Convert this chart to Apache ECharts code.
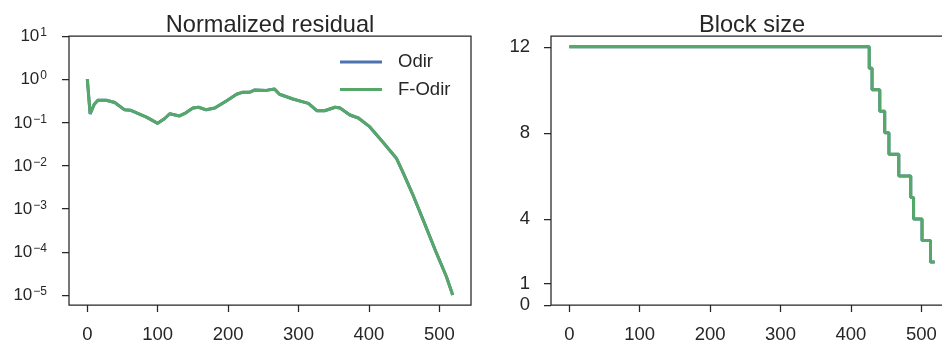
<!DOCTYPE html>
<html>
<head>
<meta charset="utf-8">
<script src="https://cdn.jsdelivr.net/npm/echarts@6/dist/echarts.min.js"></script>
<style>
html,body{margin:0;padding:0;background:#fff;}
#c{width:942px;height:345px;}
</style>
</head>
<body>
<div id="c"></div>
<script>
// ---- data ----
const residualIter = [0, 4, 10, 15, 27, 39, 53, 61, 84, 100, 110, 117, 131, 140, 150, 158, 169, 181, 198, 212, 221, 231, 238, 254, 266, 273, 292, 314, 326, 337, 352, 359, 373, 385, 401, 420, 439, 449, 463, 477, 496, 510, 519];
const residualOdir = [1.0, 0.158, 0.263, 0.324, 0.324, 0.288, 0.195, 0.191, 0.132, 0.095, 0.123, 0.158, 0.141, 0.166, 0.214, 0.224, 0.195, 0.214, 0.316, 0.447, 0.501, 0.501, 0.562, 0.550, 0.589, 0.447, 0.347, 0.275, 0.186, 0.186, 0.224, 0.214, 0.148, 0.126, 0.0794, 0.0347, 0.0148, 0.0066, 0.0020, 0.00055, 0.0000933, 0.0000269, 0.00001];
const residualFOdir = [1.0, 0.158, 0.263, 0.324, 0.324, 0.288, 0.195, 0.191, 0.132, 0.095, 0.123, 0.158, 0.141, 0.166, 0.214, 0.224, 0.195, 0.214, 0.316, 0.447, 0.501, 0.501, 0.562, 0.550, 0.589, 0.447, 0.347, 0.275, 0.186, 0.186, 0.224, 0.214, 0.148, 0.126, 0.0794, 0.0347, 0.0148, 0.0066, 0.0020, 0.00055, 0.0000933, 0.0000269, 0.00001];
const blockIter = [0, 426, 430, 441, 448, 454, 468, 485, 489, 501, 513, 519];
const blockOdir = [12, 11, 10, 9, 8, 7, 6, 5, 4, 3, 2, 2];
const blockFOdir = [12, 11, 10, 9, 8, 7, 6, 5, 4, 3, 2, 2];
const xTicks = [0, 100, 200, 300, 400, 500];
const logTickExponents = [-5, -4, -3, -2, -1, 0, 1];
const blockTicks = [0, 1, 4, 8, 12];
const seriesNames = ['Odir', 'F-Odir'];
const titles = ['Normalized residual', 'Block size'];

// ---- style ----
const FONT = '"Liberation Sans", Arial, sans-serif';
const INK = '#262626';
const BLUE = '#4C72B0';
const GREEN = '#55A868';

const pairs = (xs, ys, f) => xs.map((x, i) => [x, f ? f(ys[i]) : ys[i]]);
const sup = v => (v < 0 ? '\u2212' + (-v) : String(v));

const chart = echarts.init(document.getElementById('c'), null, {renderer: 'canvas'});

const tickStyle = {color: INK, width: 1.25};
const xAxisBase = {
  type: 'value', min: -26, max: 545,
  axisLine: {show: false, onZero: false},
  splitLine: {show: false},
  axisTick: {show: true, customValues: xTicks, length: 7, inside: false, lineStyle: tickStyle},
  axisLabel: {customValues: xTicks, color: INK, fontSize: 18.5, fontFamily: FONT, margin: 20.5}
};

chart.setOption({
  animation: false,
  title: [
    {text: titles[0], left: 265, top: 8, textAlign: 'center', textStyle: {fontSize: 23.6, fontWeight: 'normal', color: INK, fontFamily: FONT}},
    {text: titles[1], left: 747, top: 8, textAlign: 'center', textStyle: {fontSize: 23.6, fontWeight: 'normal', color: INK, fontFamily: FONT}}
  ],
  legend: {
    data: seriesNames,
    orient: 'vertical',
    left: 335, top: 47,
    itemWidth: 42, itemHeight: 3,
    itemGap: 7.6,
    icon: 'rect',
    textStyle: {fontSize: 18.5, color: INK, fontFamily: FONT, lineHeight: 20, padding: [0, 0, 0, 11]}
  },
  grid: [
    {left: 69, top: 36, width: 402, height: 269, show: true, borderColor: INK, borderWidth: 1.25, backgroundColor: 'transparent', containLabel: false, outerBoundsMode: 'none'},
    {left: 551, top: 36, width: 402, height: 269, show: true, borderColor: INK, borderWidth: 1.25, backgroundColor: 'transparent', containLabel: false, outerBoundsMode: 'none'}
  ],
  xAxis: [
    Object.assign({gridIndex: 0}, xAxisBase),
    Object.assign({gridIndex: 1}, xAxisBase)
  ],
  yAxis: [
    {
      gridIndex: 0, type: 'value', min: -5.23, max: 1,
      axisLine: {show: false, onZero: false}, splitLine: {show: false},
      axisTick: {show: true, customValues: logTickExponents, length: 7, lineStyle: tickStyle},
      axisLabel: {
        customValues: logTickExponents, margin: 22, color: INK, fontFamily: FONT,
        formatter: v => '{b|10}{s|' + sup(Math.round(v)) + '}',
        rich: {
          b: {fontSize: 17, lineHeight: 18, padding: [7, 0, 0, 0], color: INK, fontFamily: FONT, verticalAlign: 'bottom'},
          s: {fontSize: 12, lineHeight: 12, color: INK, fontFamily: FONT, verticalAlign: 'top', padding: [0, 0, 0, 1]}
        }
      }
    },
    {
      gridIndex: 1, type: 'value', min: 0, max: 12.5,
      axisLine: {show: false, onZero: false}, splitLine: {show: false},
      axisTick: {show: true, customValues: blockTicks, length: 7, lineStyle: tickStyle},
      axisLabel: {customValues: blockTicks, margin: 21, color: INK, fontSize: 18.5, fontFamily: FONT}
    }
  ],
  series: [
    {name: seriesNames[0], type: 'line', xAxisIndex: 0, yAxisIndex: 0, data: pairs(residualIter, residualOdir, Math.log10), showSymbol: false, symbol: 'none', lineStyle: {color: BLUE, width: 3}, itemStyle: {color: BLUE}},
    {name: seriesNames[1], type: 'line', xAxisIndex: 0, yAxisIndex: 0, data: pairs(residualIter, residualFOdir, Math.log10), showSymbol: false, symbol: 'none', lineStyle: {color: GREEN, width: 3}, itemStyle: {color: GREEN}},
    {name: seriesNames[0], type: 'line', xAxisIndex: 1, yAxisIndex: 1, step: 'end', data: pairs(blockIter, blockOdir), showSymbol: false, symbol: 'none', lineStyle: {color: BLUE, width: 3}, itemStyle: {color: BLUE}},
    {name: seriesNames[1], type: 'line', xAxisIndex: 1, yAxisIndex: 1, step: 'end', data: pairs(blockIter, blockFOdir), showSymbol: false, symbol: 'none', lineStyle: {color: GREEN, width: 3}, itemStyle: {color: GREEN}}
  ]
});
</script>
</body>
</html>
